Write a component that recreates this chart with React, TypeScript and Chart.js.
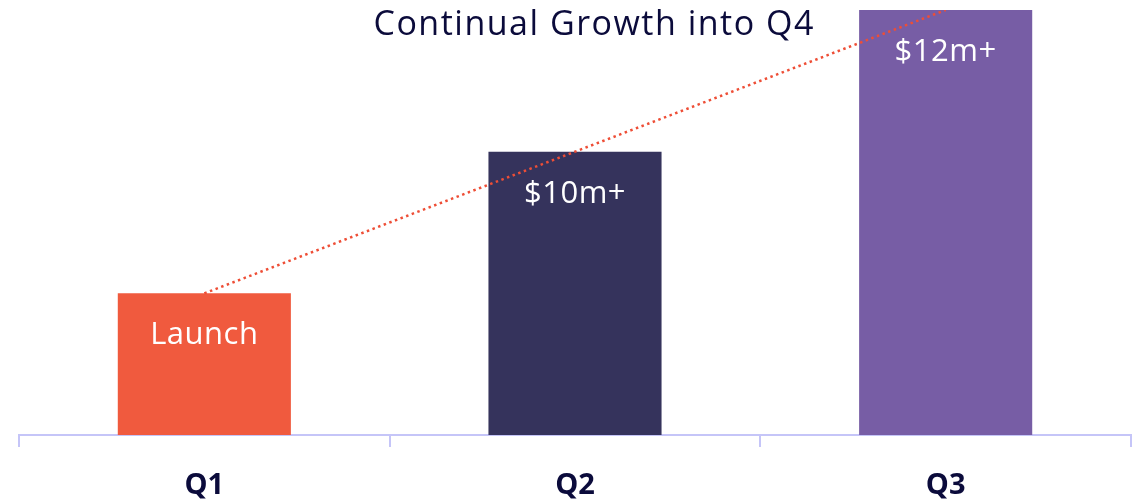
import React, { useEffect, useRef } from "react";
import { Chart, registerables } from "chart.js";

Chart.register(...registerables);

const categories = ["Q1", "Q2", "Q3"];
const barValues = [1, 2, 3];
const trendValues = [1, 2, 3];
const barLabels = ["Launch", "$10m+", "$12m+"];
const barColors = ["#F05A3E", "#35335C", "#775DA5"];
const titleText = "Continual Growth into Q4";

const FONT = "'Open Sans', 'Noto Sans', sans-serif";

const overlayPlugin = {
  id: "overlay",
  afterDatasetsDraw(chart: any) {
    const ctx = chart.ctx;
    const meta = chart.getDatasetMeta(0);
    ctx.save();
    ctx.fillStyle = "#FFFFFF";
    ctx.font = `400 31px ${FONT}`;
    try { (ctx as any).letterSpacing = "0.5px"; } catch (e) {}
    ctx.textAlign = "center";
    ctx.textBaseline = "alphabetic";
    meta.data.forEach((bar: any, i: number) => {
      ctx.fillText(barLabels[i], bar.x, bar.y + 51);
    });
    ctx.fillStyle = "#0B0B3B";
    ctx.font = `400 34px ${FONT}`;
    try { (ctx as any).letterSpacing = "1.5px"; } catch (e) {}
    ctx.fillText(titleText, chart.width * 0.5235, 35);
    ctx.restore();
  },
};

export default function App() {
  const ref = useRef<HTMLCanvasElement | null>(null);
  useEffect(() => {
    document.body.style.margin = "0";
    if (!ref.current) return;
    const chart = new Chart(ref.current, {
      type: "bar",
      data: {
        labels: categories,
        datasets: [
          {
            type: "bar",
            data: barValues,
            backgroundColor: barColors,
            barPercentage: 0.467,
            categoryPercentage: 1,
            order: 1,
          },
          {
            type: "line",
            data: trendValues,
            borderColor: "#EE4E36",
            borderWidth: 2.5,
            borderDash: [2.5, 3.5],
            pointRadius: 0,
            fill: false,
            order: 0,
          } as any,
        ],
      },
      options: {
        animation: false,
        responsive: true,
        maintainAspectRatio: false,
        layout: { padding: { left: 19, right: 4, top: 10, bottom: 0 } },
        plugins: {
          legend: { display: false },
          tooltip: { enabled: false },
          title: { display: false },
        },
        scales: {
          x: {
            afterFit: (s: any) => {
              s.height = 65;
            },
            grid: {
              display: true,
              offset: true,
              drawOnChartArea: false,
              drawTicks: true,
              tickLength: 12,
              color: "#C5C5F8",
              lineWidth: 2,
            },
            border: { display: true, color: "#C5C5F8", width: 2 },
            ticks: {
              color: "#0B0B3B",
              font: { family: FONT, size: 29, weight: "bold" },
              padding: 21,
            },
          },
          y: {
            display: false,
            min: 0,
            max: 3,
          },
        },
      },
      plugins: [overlayPlugin],
    });
    return () => chart.destroy();
  }, []);
  return (
    <div style={{ position: "fixed", left: 0, top: 0, width: 1135, height: 500 }}>
      <canvas ref={ref} />
    </div>
  );
}
